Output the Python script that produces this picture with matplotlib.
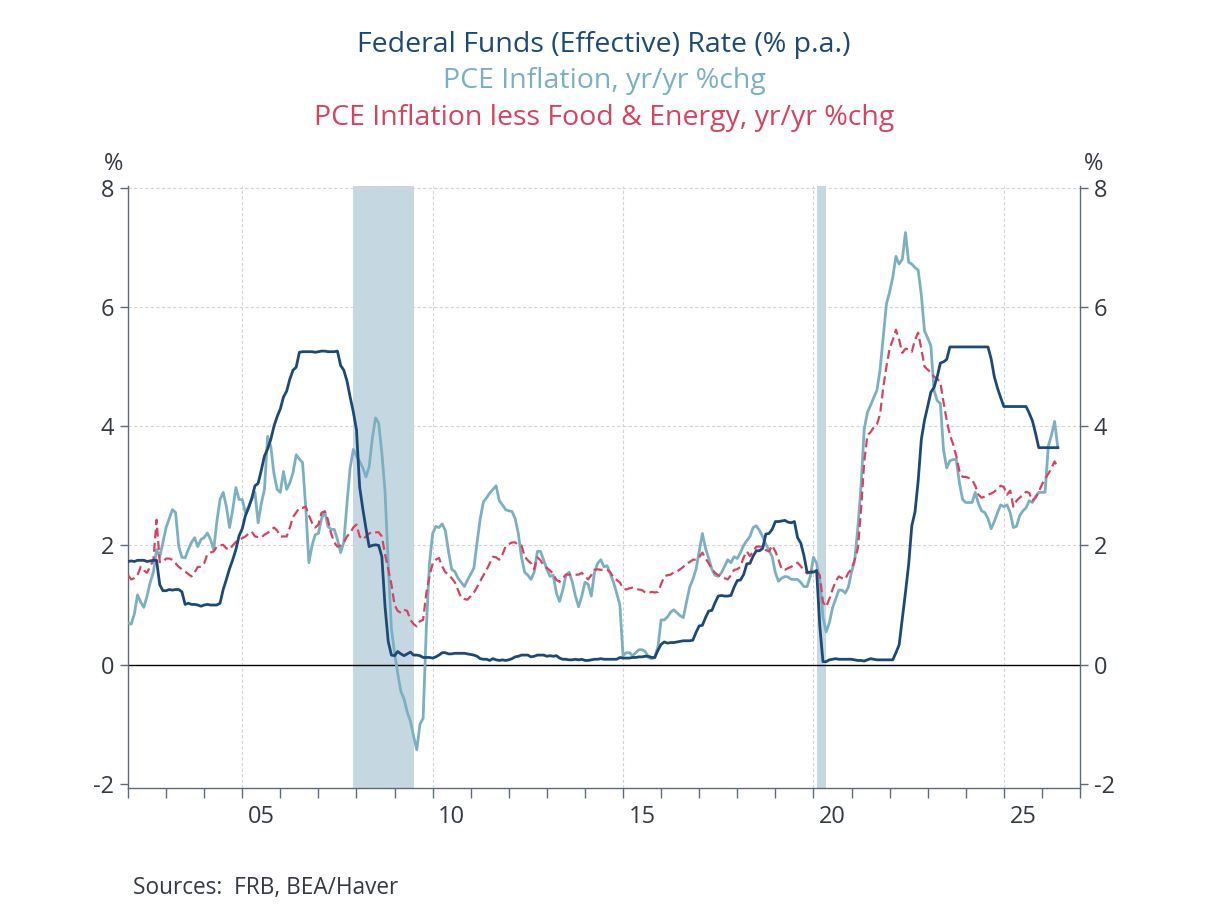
import matplotlib
matplotlib.use("Agg")
import matplotlib.pyplot as plt
import numpy as np

plt.rcParams['font.family'] = ['Open Sans', 'DejaVu Sans']

# monthly data, Jan 2002 .. Jun 2026
fed_funds = [
    1.73, 1.74, 1.73, 1.75, 1.75, 1.75, 1.73, 1.74, 1.75, 1.75, 1.34, 1.24,
    1.24, 1.26, 1.25, 1.26, 1.26, 1.22, 1.01, 1.03, 1.01, 1.01, 1.00, 0.98,
    1.00, 1.01, 1.00, 1.00, 1.00, 1.03, 1.26, 1.43, 1.61, 1.76, 1.93, 2.16,
    2.28, 2.50, 2.63, 2.79, 3.00, 3.04, 3.26, 3.50, 3.62, 3.78, 4.00, 4.16,
    4.29, 4.49, 4.59, 4.79, 4.94, 4.99, 5.24, 5.25, 5.25, 5.25, 5.25, 5.24,
    5.25, 5.26, 5.26, 5.25, 5.25, 5.25, 5.26, 5.02, 4.94, 4.76, 4.49, 4.24,
    3.94, 2.98, 2.61, 2.28, 1.98, 2.00, 2.01, 2.00, 1.81, 0.97, 0.39, 0.16,
    0.15, 0.22, 0.18, 0.15, 0.18, 0.21, 0.16, 0.16, 0.15, 0.12, 0.12, 0.12,
    0.11, 0.13, 0.16, 0.20, 0.20, 0.18, 0.18, 0.19, 0.19, 0.19, 0.19, 0.18,
    0.17, 0.16, 0.14, 0.10, 0.09, 0.09, 0.07, 0.10, 0.08, 0.07, 0.08, 0.07,
    0.08, 0.10, 0.13, 0.14, 0.16, 0.16, 0.16, 0.13, 0.14, 0.16, 0.16, 0.16,
    0.14, 0.15, 0.14, 0.15, 0.11, 0.09, 0.09, 0.08, 0.08, 0.09, 0.08, 0.09,
    0.07, 0.07, 0.08, 0.09, 0.09, 0.10, 0.09, 0.09, 0.09, 0.09, 0.09, 0.12,
    0.11, 0.11, 0.11, 0.12, 0.12, 0.13, 0.13, 0.14, 0.14, 0.12, 0.12, 0.24,
    0.34, 0.38, 0.36, 0.37, 0.37, 0.38, 0.39, 0.40, 0.40, 0.40, 0.41, 0.54,
    0.65, 0.66, 0.79, 0.90, 0.91, 1.04, 1.15, 1.16, 1.15, 1.15, 1.16, 1.30,
    1.41, 1.42, 1.51, 1.69, 1.70, 1.82, 1.91, 1.91, 1.95, 2.19, 2.20, 2.27,
    2.40, 2.40, 2.41, 2.42, 2.39, 2.38, 2.40, 2.13, 2.04, 1.83, 1.55, 1.55,
    1.55, 1.58, 0.65, 0.05, 0.05, 0.08, 0.09, 0.10, 0.09, 0.09, 0.09, 0.09,
    0.09, 0.08, 0.07, 0.07, 0.06, 0.08, 0.10, 0.09, 0.08, 0.08, 0.08, 0.08,
    0.08, 0.08, 0.20, 0.33, 0.77, 1.21, 1.68, 2.33, 2.56, 3.08, 3.78, 4.10,
    4.33, 4.57, 4.65, 4.83, 5.06, 5.08, 5.12, 5.33, 5.33, 5.33, 5.33, 5.33,
    5.33, 5.33, 5.33, 5.33, 5.33, 5.33, 5.33, 5.33, 5.13, 4.83, 4.64, 4.48,
    4.33, 4.33, 4.33, 4.33, 4.33, 4.33, 4.33, 4.33, 4.22, 4.09, 3.88, 3.64,
    3.64, 3.64, 3.64, 3.64, 3.64, 3.64,
]

pce = [
    0.70, 0.68, 0.85, 1.17, 1.05, 0.96, 1.15, 1.38, 1.55, 1.93, 1.81, 2.05,
    2.30, 2.45, 2.60, 2.55, 1.98, 1.80, 1.79, 1.93, 2.05, 2.13, 1.98, 2.10,
    2.13, 2.21, 2.10, 1.93, 2.40, 2.77, 2.89, 2.65, 2.30, 2.60, 2.97, 2.77,
    2.77, 2.55, 2.65, 2.77, 2.89, 2.38, 2.70, 2.94, 3.83, 3.66, 3.20, 2.94,
    2.89, 3.24, 2.94, 3.05, 3.22, 3.52, 3.45, 3.39, 2.65, 1.71, 2.00, 2.18,
    2.20, 2.45, 2.57, 2.32, 2.27, 2.27, 2.10, 1.88, 2.05, 2.70, 3.30, 3.61,
    3.50, 3.41, 3.30, 3.15, 3.32, 3.80, 4.14, 4.05, 3.55, 2.90, 1.70, 0.60,
    0.20, -0.15, -0.45, -0.58, -0.80, -0.95, -1.20, -1.43, -1.00, -0.90, 0.60, 1.70,
    2.20, 2.32, 2.30, 2.36, 2.25, 1.90, 1.60, 1.56, 1.45, 1.38, 1.31, 1.42,
    1.52, 1.62, 2.05, 2.45, 2.73, 2.80, 2.88, 2.94, 3.00, 2.75, 2.68, 2.60,
    2.58, 2.57, 2.45, 2.20, 1.80, 1.55, 1.50, 1.43, 1.55, 1.90, 1.90, 1.75,
    1.60, 1.48, 1.50, 1.20, 1.06, 1.25, 1.50, 1.55, 1.39, 1.15, 0.97, 1.15,
    1.38, 1.35, 1.15, 1.55, 1.70, 1.76, 1.64, 1.66, 1.52, 1.38, 1.20, 1.00,
    0.15, 0.20, 0.20, 0.15, 0.20, 0.25, 0.25, 0.22, 0.12, 0.10, 0.12, 0.30,
    0.75, 0.75, 0.80, 0.88, 0.92, 0.87, 0.82, 0.79, 1.05, 1.30, 1.43, 1.60,
    1.90, 2.20, 1.95, 1.78, 1.60, 1.50, 1.48, 1.54, 1.65, 1.76, 1.71, 1.81,
    1.78, 1.88, 2.00, 2.08, 2.15, 2.30, 2.33, 2.25, 2.15, 2.02, 1.92, 1.81,
    1.54, 1.40, 1.45, 1.48, 1.47, 1.43, 1.43, 1.43, 1.38, 1.31, 1.31, 1.48,
    1.80, 1.70, 1.40, 0.80, 0.55, 0.70, 0.95, 1.10, 1.25, 1.25, 1.20, 1.30,
    1.55, 1.75, 2.30, 3.00, 3.95, 4.23, 4.35, 4.48, 4.60, 4.95, 5.50, 6.05,
    6.25, 6.50, 6.85, 6.72, 6.80, 7.25, 6.75, 6.72, 6.66, 6.62, 6.20, 5.60,
    5.48, 5.35, 4.60, 4.43, 4.38, 3.60, 3.30, 3.42, 3.44, 3.44, 3.05, 2.77,
    2.72, 2.72, 2.72, 2.89, 2.70, 2.58, 2.55, 2.45, 2.28, 2.40, 2.55, 2.68,
    2.65, 2.68, 2.55, 2.30, 2.32, 2.50, 2.58, 2.63, 2.75, 2.72, 2.82, 2.89,
    2.89, 2.89, 3.66, 3.85, 4.08, 3.64,
]

core_pce = [
    1.50, 1.43, 1.45, 1.50, 1.64, 1.58, 1.54, 1.65, 1.75, 2.43, 1.72, 1.72,
    1.78, 1.78, 1.76, 1.70, 1.64, 1.60, 1.56, 1.52, 1.48, 1.55, 1.64, 1.64,
    1.70, 1.85, 1.88, 1.90, 1.98, 2.00, 2.01, 1.95, 1.93, 2.00, 2.06, 2.10,
    2.12, 2.15, 2.20, 2.23, 2.15, 2.14, 2.13, 2.18, 2.21, 2.25, 2.30, 2.25,
    2.15, 2.15, 2.15, 2.30, 2.48, 2.55, 2.63, 2.63, 2.65, 2.50, 2.38, 2.30,
    2.35, 2.55, 2.57, 2.43, 2.20, 2.05, 1.98, 2.00, 2.05, 2.15, 2.21, 2.30,
    2.35, 2.15, 2.10, 2.15, 2.20, 2.23, 2.22, 2.22, 2.15, 1.85, 1.60, 1.35,
    1.00, 0.90, 0.87, 0.92, 0.90, 0.75, 0.68, 0.64, 0.73, 0.75, 1.20, 1.48,
    1.70, 1.76, 1.79, 1.65, 1.55, 1.51, 1.45, 1.38, 1.25, 1.12, 1.10, 1.09,
    1.15, 1.21, 1.30, 1.40, 1.50, 1.59, 1.70, 1.81, 1.80, 1.76, 1.85, 1.98,
    2.02, 2.05, 2.05, 2.01, 2.00, 1.81, 1.75, 1.70, 1.60, 1.80, 1.75, 1.66,
    1.62, 1.58, 1.52, 1.42, 1.39, 1.45, 1.51, 1.51, 1.51, 1.51, 1.51, 1.54,
    1.48, 1.43, 1.50, 1.59, 1.60, 1.59, 1.60, 1.59, 1.55, 1.46, 1.42, 1.38,
    1.28, 1.26, 1.28, 1.29, 1.27, 1.26, 1.25, 1.21, 1.20, 1.22, 1.21, 1.22,
    1.35, 1.48, 1.50, 1.51, 1.55, 1.56, 1.60, 1.64, 1.70, 1.72, 1.76, 1.76,
    1.80, 1.88, 1.78, 1.70, 1.60, 1.54, 1.50, 1.48, 1.45, 1.43, 1.50, 1.59,
    1.60, 1.64, 1.80, 1.90, 1.82, 1.90, 1.98, 1.98, 1.98, 1.92, 1.90, 2.00,
    1.90, 1.76, 1.60, 1.59, 1.62, 1.64, 1.68, 1.71, 1.65, 1.59, 1.53, 1.55,
    1.59, 1.57, 1.50, 1.05, 0.97, 1.10, 1.26, 1.40, 1.48, 1.45, 1.43, 1.54,
    1.60, 1.76, 1.95, 2.60, 3.40, 3.85, 3.90, 3.98, 4.03, 4.20, 4.65, 5.00,
    5.30, 5.45, 5.62, 5.45, 5.23, 5.30, 5.29, 5.25, 5.45, 5.57, 5.30, 5.00,
    4.95, 4.90, 4.83, 4.80, 4.73, 4.40, 4.10, 3.85, 3.70, 3.50, 3.25, 3.15,
    3.15, 3.13, 3.10, 3.00, 2.85, 2.80, 2.82, 2.85, 2.87, 2.90, 2.95, 3.00,
    2.98, 2.85, 2.92, 2.65, 2.75, 2.80, 2.85, 2.90, 2.88, 2.75, 2.80, 2.90,
    3.02, 3.12, 3.20, 3.30, 3.41, 3.30,
]

recessions = [(2007 + 11 / 12, 2009 + 6 / 12), (2020 + 1 / 12, 2020 + 4 / 12)]
year_labels = ['05', '10', '15', '20', '25']
label_years = [2005.5, 2010.5, 2015.5, 2020.5, 2025.5]
grid_years = [2005, 2010, 2015, 2020, 2025]

dates = 2002 + np.arange(len(fed_funds)) / 12.0

navy = '#1c4a78'
teal = '#7ab0c1'
red = '#d8425e'
axis_col = '#5b6b7b'
text_col = '#333a42'

fig = plt.figure(figsize=(12.08, 9.06), dpi=100)
ax = fig.add_axes([128 / 1208, 1 - 788 / 906, (1080 - 128) / 1208, (788 - 186) / 906])

for start, end in recessions:
    ax.axvspan(start, end, color='#c5d8e2', lw=0, zorder=0)

for g in grid_years:
    ax.axvline(g, color='#d4d4d4', lw=0.8, ls=(0, (3, 2)), zorder=1)
for g in [2, 4, 6, 8]:
    ax.axhline(g, color='#d4d4d4', lw=0.8, ls=(0, (3, 2)), zorder=1)
ax.axhline(0, color='black', lw=1.0, zorder=2)

ax.plot(dates, pce, color=teal, lw=2.0, zorder=3)
ax.plot(dates, core_pce, color=red, lw=1.6, ls=(0, (4, 2)), zorder=4)
ax.plot(dates, fed_funds, color=navy, lw=2.0, zorder=5)

ax.set_xlim(2002, 2027)
ax.set_ylim(-2.07, 8.03)

ax.set_xticks(np.arange(2002, 2028))
ax.set_xticklabels([])
ax.set_xticks(label_years, minor=True)
ax.set_xticklabels(year_labels, minor=True)
ax.tick_params(axis='x', which='major', direction='out', length=7, width=1, color=axis_col)
ax.tick_params(axis='x', which='minor', length=0, pad=12, labelsize=17, labelcolor=text_col)

ax.set_yticks([-2, 0, 2, 4, 6, 8])
ax.set_yticklabels(['-2', '0', '2', '4', '6', '8'])
ax.tick_params(axis='y', direction='out', length=6, width=1, color=axis_col,
               left=True, right=True, labelleft=True, labelright=True,
               labelsize=17, labelcolor=text_col, pad=4)

for side in ['left', 'right', 'bottom']:
    ax.spines[side].set_color(axis_col)
    ax.spines[side].set_linewidth(1.0)
ax.spines['top'].set_visible(False)

fig.text(114 / 1208, 1 - 164 / 906, '%', ha='center', va='center', fontsize=17, color=text_col)
fig.text(1094 / 1208, 1 - 164 / 906, '%', ha='center', va='center', fontsize=17, color=text_col)

fig.text(0.5, 1 - 45 / 906, 'Federal Funds (Effective) Rate (% p.a.)', ha='center', va='center',
         fontsize=20.5, color=navy)
fig.text(0.5, 1 - 81 / 906, 'PCE Inflation, yr/yr %chg', ha='center', va='center',
         fontsize=20.5, color=teal)
fig.text(0.5, 1 - 118 / 906, 'PCE Inflation less Food & Energy, yr/yr %chg', ha='center', va='center',
         fontsize=20.5, color=red)

fig.text(133 / 1208, 1 - 888 / 906, 'Sources:  FRB, BEA/Haver', ha='left', va='center',
         fontsize=16.3, color=text_col)

fig.savefig('out.png', dpi=100)
